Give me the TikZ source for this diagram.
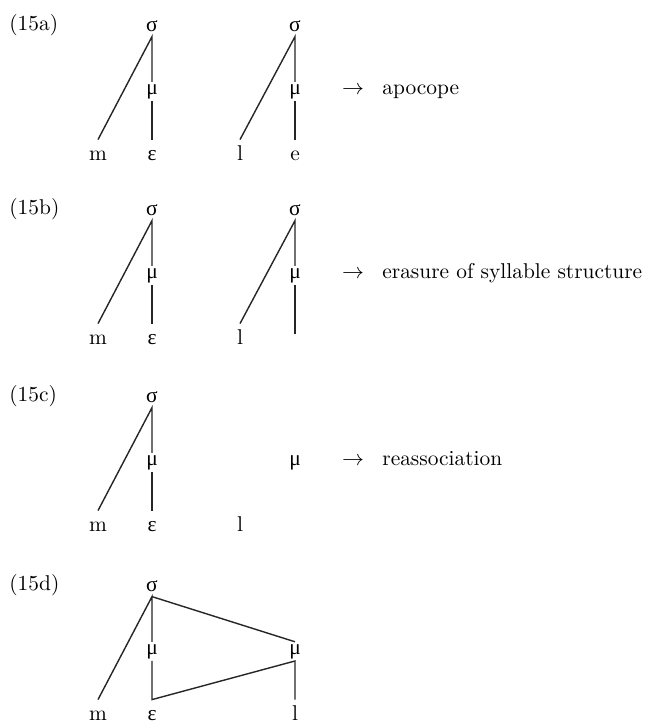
\documentclass[tikz,border=0pt]{standalone}
\usepackage{fontspec}
\newfontfamily\grk{Liberation Serif}
\begin{document}
\begin{tikzpicture}[x=0.5pt,y=-0.5pt,
  every node/.style={font=\fontsize{10.7}{13}\selectfont},
  lab/.style={anchor=base west,inner sep=0pt},
  sig/.style={anchor=base,inner xsep=1pt,inner ysep=2.5pt},
  mu/.style={anchor=base,inner sep=1pt},
  seg/.style={anchor=base,inner xsep=1pt,inner ysep=1.5pt,text height=8.5pt},
  arr/.style={anchor=base,inner sep=0pt},
  txt/.style={anchor=base west,inner sep=0pt},
  ln/.style={draw=black!85,line width=0.7pt}]
\fill[white] (0,0) rectangle (648,724);
\clip (0,0) rectangle (648,724);
% ---------- (15a) ----------
\begin{scope}[yshift=0pt]
\node[lab] (la) at (9,30) {(15a)};
\node[sig] (a1s) at (152,31) {\grk σ};
\node[mu]  (a1m) at (152,94) {\grk μ};
\node[seg] (a1c) at (98,160) {m};
\node[seg] (a1v) at (152,160) {\grk ε};
\node[sig] (a2s) at (295,31) {\grk σ};
\node[mu]  (a2m) at (295,94) {\grk μ};
\node[seg] (a2c) at (240,160) {l};
\node[seg] (a2v) at (295,160) {e};
\node[arr] (aa) at (353,94) {$\rightarrow$};
\node[txt] (at) at (382,94) {apocope};
\draw[ln] (a1c.north) -- (a1s.south) -- (a1m.north);
\draw[ln] (a1m.south) -- (a1v.north);
\draw[ln] (a2c.north) -- (a2s.south) -- (a2m.north);
\draw[ln] (a2m.south) -- (a2v.north);
\end{scope}
% ---------- (15b) ----------
\begin{scope}[yshift=-92pt]
\node[lab] (lb) at (9,30) {(15b)};
\node[sig] (b1s) at (152,31) {\grk σ};
\node[mu]  (b1m) at (152,94) {\grk μ};
\node[seg] (b1c) at (98,160) {m};
\node[seg] (b1v) at (152,160) {\grk ε};
\node[sig] (b2s) at (295,31) {\grk σ};
\node[mu]  (b2m) at (295,94) {\grk μ};
\node[seg] (b2c) at (240,160) {l};
\coordinate (b2e) at (295,150);
\node[arr] (ba) at (353,94) {$\rightarrow$};
\node[txt] (bt) at (382,94) {erasure of syllable structure};
\draw[ln] (b1c.north) -- (b1s.south) -- (b1m.north);
\draw[ln] (b1m.south) -- (b1v.north);
\draw[ln] (b2c.north) -- (b2s.south) -- (b2m.north);
\draw[ln] (b2m.south) -- (b2e);
\end{scope}
% ---------- (15c) ----------
\begin{scope}[yshift=-185.5pt]
\node[lab] (lc) at (9,30) {(15c)};
\node[sig] (c1s) at (152,31) {\grk σ};
\node[mu]  (c1m) at (152,94) {\grk μ};
\node[seg] (c1c) at (98,160) {m};
\node[seg] (c1v) at (152,160) {\grk ε};
\node[seg] (c2c) at (240,160) {l};
\node[mu]  (c2m) at (295,94) {\grk μ};
\node[arr] (ca) at (353,94) {$\rightarrow$};
\node[txt] (ct) at (382,94) {reassociation};
\draw[ln] (c1c.north) -- (c1s.south) -- (c1m.north);
\draw[ln] (c1m.south) -- (c1v.north);
\end{scope}
% ---------- (15d) ----------
\begin{scope}[yshift=-280pt]
\node[lab] (ld) at (9,30) {(15d)};
\node[sig] (d1s) at (152,31) {\grk σ};
\node[mu]  (d1m) at (152,94) {\grk μ};
\node[seg] (d1c) at (98,160) {m};
\node[seg] (d1v) at (152,160) {\grk ε};
\node[mu]  (d2m) at (295,94) {\grk μ};
\node[seg] (d2c) at (295,160) {l};
\draw[ln] (d1c.north) -- (d1s.south) -- (d1m.north);
\draw[ln] (d1m.south) -- (d1v.north) -- (d2m.south) -- (d2c.north);
\draw[ln] (d1s.south) -- (d2m.north);
\end{scope}
\end{tikzpicture}
\end{document}
